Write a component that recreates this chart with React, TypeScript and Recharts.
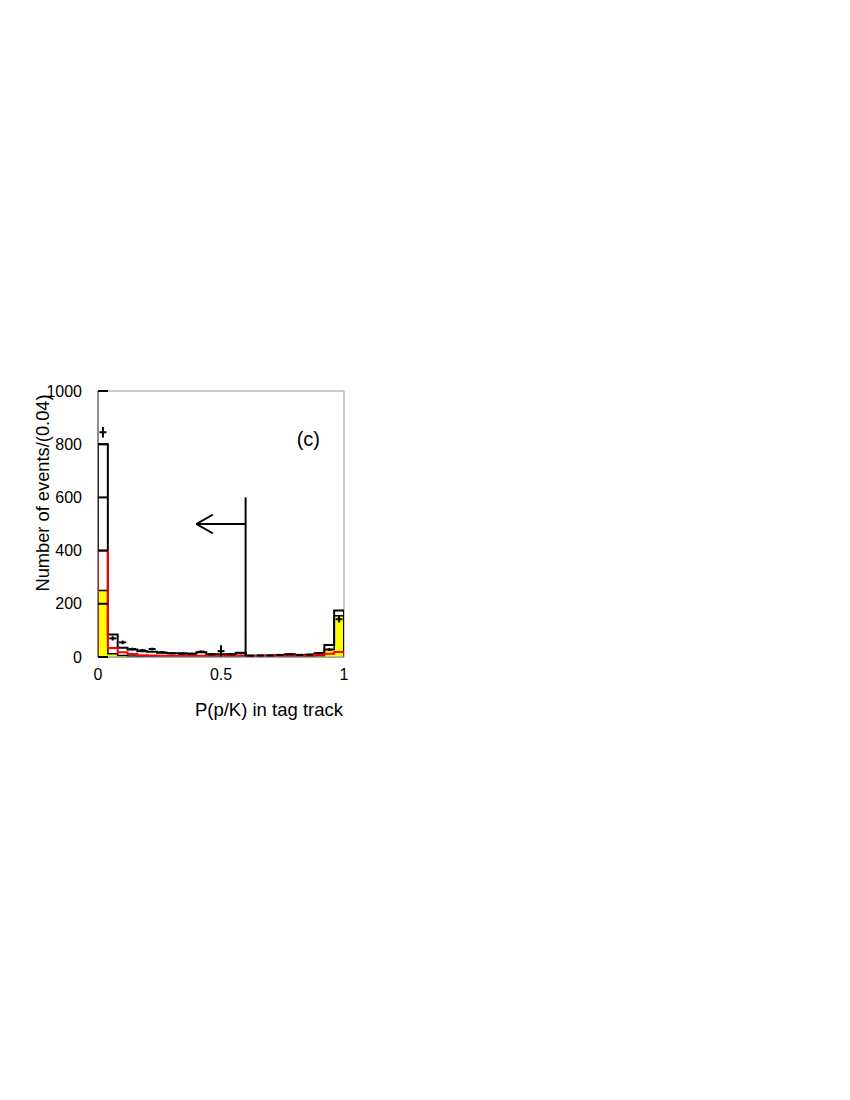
import React from "react";
import {
  ComposedChart,
  Area,
  Line,
  Scatter,
  ErrorBar,
  XAxis,
  YAxis,
  ReferenceLine,
  ReferenceArea,
  ReferenceDot,
} from "recharts";

// P(p/K) bins of width 0.04, 25 bins from 0 to 1
const BIN_WIDTH = 0.04;

// black open histogram (total MC)
const totalMC = [800, 85, 35, 28, 22, 20, 16, 14, 14, 12, 18, 10, 10, 10, 16, 5, 5, 6, 7, 10, 7, 8, 14, 45, 175];
// red open histogram
const redHist = [400, 34, 18, 11, 7, 6, 5, 5, 5, 5, 5, 5, 5, 5, 5, 5, 5, 5, 5, 5, 5, 6, 8, 12, 19];
// yellow filled histogram
const yellowHist = [250, 12, 6, 4, 3, 3, 2, 2, 2, 2, 2, 2, 2, 2, 2, 2, 2, 2, 2, 2, 2, 3, 5, 28, 155];
// data points with errors
const dataVals = [845, 70, 55, 30, 25, 30, 18, 14, 12, 12, 20, 10, 22, 10, 14, 5, 6, 6, 8, 10, 8, 9, 15, 28, 142];
const dataErrs = [20, 8, 7, 5, 5, 5, 4, 4, 4, 4, 4, 3, 22, 3, 4, 2, 2, 2, 3, 3, 3, 3, 4, 5, 12];

const xTicks = [0, 0.5, 1];
const yTicks = [0, 200, 400, 600, 800, 1000];

// cut arrow: vertical line at 0.6, arrow pointing left at y=500
const CUT_X = 0.6;
const CUT_TOP = 600;
const ARROW_Y = 500;
const ARROW_TIP = 0.4;

const FONT = "'Liberation Sans', Arial, Helvetica, sans-serif";

const r4 = (v: number) => Math.round(v * 10000) / 10000;

// step outline points for a histogram
function steps(values: number[]) {
  const pts = [{ x: 0, y: 0 }];
  values.forEach((v, i) => pts.push({ x: r4(i * BIN_WIDTH), y: v }));
  pts.push({ x: 1, y: values[values.length - 1] });
  pts.push({ x: 1, y: 0 });
  return pts;
}

const points = dataVals.map((v, i) => ({
  x: r4((i + 0.5) * BIN_WIDTH),
  y: v,
  err: dataErrs[i],
}));

const Cross = (props: any) => {
  const { cx, cy } = props;
  if (cx == null || cy == null) return null;
  return <line x1={cx - 3.5} x2={cx + 3.5} y1={cy} y2={cy} stroke="#000" strokeWidth={2} />;
};

const YLabel = () => (
  <text
    x={42}
    y={493}
    transform="rotate(-90 42 493)"
    textAnchor="middle"
    dominantBaseline="central"
    fontFamily={FONT}
    fontSize={18.3}
    fill="#000"
  >
    Number of events/(0.04)
  </text>
);

export default function App() {
  return (
    <div style={{ position: "absolute", left: 0, top: 0 }}>
      <ComposedChart
        width={850}
        height={1100}
        margin={{ top: 391, right: 506, bottom: 383, left: 38 }}
      >
        <XAxis
          type="number"
          dataKey="x"
          domain={[0, 1]}
          ticks={xTicks}
          allowDataOverflow
          height={60}
          axisLine={{ stroke: "#888" }}
          tickLine={false}
          tickSize={0}
          tickMargin={12}
          tick={{ fill: "#000", fontSize: 16, fontFamily: FONT }}
          label={{
            value: "P(p/K) in tag track",
            position: "insideBottomRight",
            offset: 1,
            fill: "#000",
            fontSize: 18.5,
            fontFamily: FONT,
          }}
        />
        <YAxis
          type="number"
          domain={[0, 1000]}
          ticks={yTicks}
          allowDataOverflow
          width={60}
          axisLine={{ stroke: "#555" }}
          tickLine={{ stroke: "#000", strokeWidth: 2 }}
          tickSize={-10}
          tickMargin={26}
          tick={{ fill: "#000", fontSize: 16, fontFamily: FONT }}
          label={<YLabel />}
        />
        <ReferenceArea x1={0} x2={1} y1={0} y2={1000} fill="none" stroke="#999" strokeWidth={1} />
        <Area
          data={steps(yellowHist)}
          dataKey="y"
          type="stepAfter"
          fill="#ffff00"
          fillOpacity={1}
          stroke="#000"
          strokeWidth={1.5}
          isAnimationActive={false}
        />
        <Line
          data={steps(totalMC)}
          dataKey="y"
          type="stepAfter"
          stroke="#000"
          strokeWidth={2}
          dot={false}
          isAnimationActive={false}
        />
        <Line
          data={steps(redHist)}
          dataKey="y"
          type="stepAfter"
          stroke="#ff0000"
          strokeWidth={2}
          dot={false}
          isAnimationActive={false}
        />
        <Scatter data={points} dataKey="y" shape={<Cross />} isAnimationActive={false}>
          <ErrorBar dataKey="err" direction="y" width={0} stroke="#000" strokeWidth={2} />
        </Scatter>
        <ReferenceLine
          segment={[{ x: CUT_X, y: 0 }, { x: CUT_X, y: CUT_TOP }]}
          stroke="#000"
          strokeWidth={2}
        />
        <ReferenceLine
          segment={[{ x: ARROW_TIP, y: ARROW_Y }, { x: CUT_X, y: ARROW_Y }]}
          stroke="#000"
          strokeWidth={2}
        />
        <ReferenceLine
          segment={[{ x: ARROW_TIP, y: ARROW_Y }, { x: 0.467, y: 535 }]}
          stroke="#000"
          strokeWidth={2}
        />
        <ReferenceLine
          segment={[{ x: ARROW_TIP, y: ARROW_Y }, { x: 0.467, y: 465 }]}
          stroke="#000"
          strokeWidth={2}
        />
        <ReferenceDot
          x={0.855}
          y={820}
          r={0}
          fill="none"
          stroke="none"
          label={{ value: "(c)", position: "center", fill: "#000", fontSize: 20, fontFamily: FONT }}
        />
      </ComposedChart>
    </div>
  );
}
